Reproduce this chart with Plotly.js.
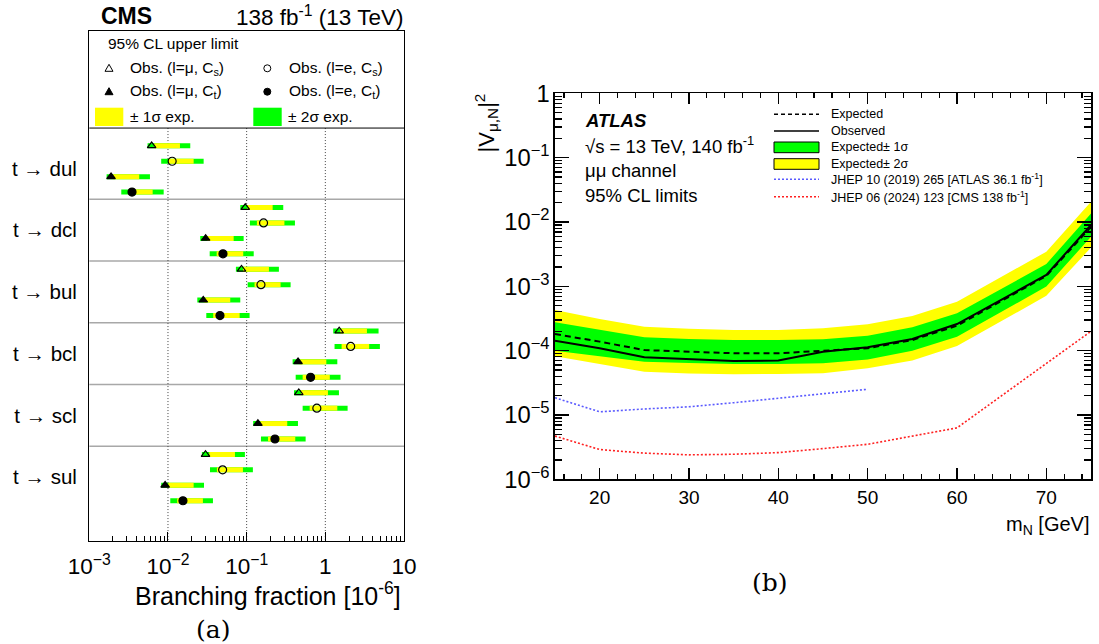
<!DOCTYPE html>
<html><head><meta charset="utf-8">
<script src="https://cdn.plot.ly/plotly-3.0.1.min.js"></script>
<style>html,body{margin:0;padding:0;background:#fff}</style>
</head><body>
<div id="chart" style="width:1099px;height:644px"></div>
<script>
// ================= Panel (a): CMS top-quark FCNC limits (10^-6) =================
const decays = ['t → dul', 't → dcl', 't → bul', 't → bcl', 't → scl', 't → sul'];
// Obs. (l=mu, Cs)
const obsMuCs = [0.0062, 0.096, 0.086, 1.50, 0.46, 0.030];
const lo2MuCs = [0.0055, 0.083, 0.073, 1.26, 0.40, 0.027];
const lo1MuCs = [0.0067, 0.102, 0.090, 1.55, 0.49, 0.0335];
const hi1MuCs = [0.0142, 0.214, 0.192, 3.38, 1.08, 0.071];
const hi2MuCs = [0.0192, 0.292, 0.257, 4.75, 1.49, 0.095];
// Obs. (l=e, Cs)
const obsECs = [0.0113, 0.164, 0.152, 2.10, 0.78, 0.0495];
const lo2ECs = [0.0082, 0.110, 0.103, 1.31, 0.515, 0.0342];
const lo1ECs = [0.0101, 0.135, 0.126, 1.61, 0.632, 0.0419];
const hi1ECs = [0.0212, 0.302, 0.270, 3.61, 1.42, 0.0897];
const hi2ECs = [0.0284, 0.411, 0.362, 4.94, 1.92, 0.120];
// Obs. (l=mu, Ct)
const obsMuCt = [0.00189, 0.0301, 0.0281, 0.45, 0.139, 0.0092];
const lo2MuCt = [0.00166, 0.0257, 0.0236, 0.384, 0.121, 0.0082];
const lo1MuCt = [0.0020, 0.0316, 0.0289, 0.47, 0.149, 0.0101];
const hi1MuCt = [0.00431, 0.0684, 0.0619, 1.03, 0.328, 0.0212];
const hi2MuCt = [0.0059, 0.0916, 0.083, 1.42, 0.449, 0.0287];
// Obs. (l=e, Ct)
const obsECt = [0.00349, 0.050, 0.0458, 0.65, 0.229, 0.0155];
const lo2ECt = [0.00255, 0.0339, 0.0307, 0.42, 0.152, 0.0107];
const lo1ECt = [0.00313, 0.0416, 0.0376, 0.515, 0.187, 0.0131];
const hi1ECt = [0.00639, 0.0905, 0.0815, 1.14, 0.415, 0.0278];
const hi2ECt = [0.00882, 0.123, 0.109, 1.56, 0.562, 0.0373];

// ================= Panel (b): ATLAS HNL |V_muN|^2 limits =================
const massN    = [15, 20, 25, 30, 35, 40, 45, 50, 55, 60, 70, 75];
const exp2Up   = [4.3e-4, 3.1e-4, 2.36e-4, 2.19e-4, 2.09e-4, 2.09e-4, 2.22e-4, 2.56e-4, 3.45e-4, 5.75e-4, 3.45e-3, 2.07e-2];
const exp1Up   = [2.75e-4, 2.09e-4, 1.61e-4, 1.52e-4, 1.46e-4, 1.46e-4, 1.50e-4, 1.71e-4, 2.31e-4, 3.80e-4, 2.22e-3, 1.36e-2];
const expected = [1.81e-4, 1.38e-4, 1.02e-4, 9.6e-5, 9.1e-5, 9.1e-5, 9.9e-5, 1.09e-4, 1.46e-4, 2.44e-4, 1.45e-3, 8.4e-3];
const observed = [1.43e-4, 1.09e-4, 7.9e-5, 7.4e-5, 6.9e-5, 7.0e-5, 9.6e-5, 1.13e-4, 1.52e-4, 2.59e-4, 1.50e-3, 8.97e-3];
const exp1Dn   = [1.0e-4, 8.2e-5, 6.7e-5, 6.4e-5, 6.2e-5, 6.2e-5, 6.35e-5, 7.3e-5, 1.0e-4, 1.64e-4, 9.9e-4, 5.9e-3];
const exp2Dn   = [8.2e-5, 6.2e-5, 4.7e-5, 4.4e-5, 4.3e-5, 4.35e-5, 4.45e-5, 5.3e-5, 7.0e-5, 1.18e-4, 7.1e-4, 4.0e-3];
const massAtlas2019 = [15, 20, 25, 30, 35, 40, 45, 50];
const limAtlas2019  = [1.85e-5, 1.12e-5, 1.24e-5, 1.34e-5, 1.55e-5, 1.82e-5, 2.12e-5, 2.51e-5];
const massCms2024 = [15, 20, 25, 30, 35, 40, 45, 50, 60, 70, 75];
const limCms2024  = [4.7e-6, 2.9e-6, 2.55e-6, 2.4e-6, 2.45e-6, 2.6e-6, 3.0e-6, 3.5e-6, 6.3e-6, 6.3e-5, 2.0e-4];

const legendA = ['Obs. (l=μ, C<sub>s</sub>)', 'Obs. (l=e, C<sub>s</sub>)', 'Obs. (l=μ, C<sub>t</sub>)', 'Obs. (l=e, C<sub>t</sub>)', '± 1σ exp.', '± 2σ exp.'];
const legendB = ['Expected', 'Observed', 'Expected± 1σ', 'Expected± 2σ',
  'JHEP 10 (2019) 265 [ATLAS 36.1 fb<sup>-1</sup>]', 'JHEP 06 (2024) 123 [CMS 138 fb<sup>-1</sup>]'];

// ---------------- helpers ----------------
const W = 1099, H = 644;
const px = x => x / W;
const py = y => 1 - y / H;
const F = 'Liberation Sans, Arial, Helvetica, sans-serif';
const GREEN = '#00ff00', YELLOW = '#ffff00';

const seriesA = [
  {obs: obsMuCs, lo2: lo2MuCs, lo1: lo1MuCs, hi1: hi1MuCs, hi2: hi2MuCs, symbol: 'triangle-up-open', size: 7.5},
  {obs: obsECs,  lo2: lo2ECs,  lo1: lo1ECs,  hi1: hi1ECs,  hi2: hi2ECs,  symbol: 'circle-open', size: 8},
  {obs: obsMuCt, lo2: lo2MuCt, lo1: lo1MuCt, hi1: hi1MuCt, hi2: hi2MuCt, symbol: 'triangle-up', size: 7.5},
  {obs: obsECt,  lo2: lo2ECt,  lo1: lo1ECt,  hi1: hi1ECt,  hi2: hi2ECt,  symbol: 'circle', size: 8}
];
const rowY = (g, r) => 4 * g + r + 0.53;

const traces = [];
function bandTrace(loKey, hiKey, color) {
  const xs = [], ys = [];
  seriesA.forEach((s, r) => {
    decays.forEach((d, g) => {
      xs.push(s[loKey][g], s[hiKey][g], null);
      ys.push(rowY(g, r), rowY(g, r), null);
    });
  });
  return {type: 'scatter', mode: 'lines', x: xs, y: ys, xaxis: 'x', yaxis: 'y',
    line: {color: color, width: 5}, hoverinfo: 'skip', showlegend: false, connectgaps: false};
}
traces.push(bandTrace('lo2', 'hi2', GREEN));
traces.push(bandTrace('lo1', 'hi1', YELLOW));
seriesA.forEach((s, r) => {
  traces.push({type: 'scatter', mode: 'markers', xaxis: 'x', yaxis: 'y',
    x: s.obs, y: decays.map((d, g) => rowY(g, r)),
    marker: {symbol: s.symbol, size: s.size, color: '#000', line: {color: '#000', width: 1.2}},
    showlegend: false});
});

// panel (b)
traces.push({type: 'scatter', mode: 'lines', x: massN, y: exp2Dn, xaxis: 'x2', yaxis: 'y2', line: {width: 0}, showlegend: false, hoverinfo: 'skip'});
traces.push({type: 'scatter', mode: 'lines', x: massN, y: exp2Up, xaxis: 'x2', yaxis: 'y2', line: {width: 0}, fill: 'tonexty', fillcolor: YELLOW, showlegend: false});
traces.push({type: 'scatter', mode: 'lines', x: massN, y: exp1Dn, xaxis: 'x2', yaxis: 'y2', line: {width: 0}, showlegend: false, hoverinfo: 'skip'});
traces.push({type: 'scatter', mode: 'lines', x: massN, y: exp1Up, xaxis: 'x2', yaxis: 'y2', line: {width: 0}, fill: 'tonexty', fillcolor: GREEN, showlegend: false});
traces.push({type: 'scatter', mode: 'lines', x: massAtlas2019, y: limAtlas2019, xaxis: 'x2', yaxis: 'y2', line: {color: '#5a5aff', width: 1.6, dash: '2px,2px'}, showlegend: false});
traces.push({type: 'scatter', mode: 'lines', x: massCms2024, y: limCms2024, xaxis: 'x2', yaxis: 'y2', line: {color: '#ff2020', width: 1.6, dash: '2px,2px'}, showlegend: false});
traces.push({type: 'scatter', mode: 'lines', x: massN, y: expected, xaxis: 'x2', yaxis: 'y2', line: {color: '#000', width: 2, dash: '6px,4px'}, showlegend: false});
traces.push({type: 'scatter', mode: 'lines', x: massN, y: observed, xaxis: 'x2', yaxis: 'y2', line: {color: '#000', width: 2}, showlegend: false});

// ---------------- shapes & annotations ----------------
const shapes = [];
const annotations = [];
const txt = (x, y, text, size, opts = {}) => annotations.push(Object.assign({
  xref: 'paper', yref: 'paper', x: px(x), y: py(y), text: text, showarrow: false,
  xanchor: 'left', yanchor: 'middle', font: {family: F, size: size, color: '#000'}}, opts));

for (let g = 1; g < decays.length; g++) {
  shapes.push({type: 'line', xref: 'x domain', yref: 'y', x0: 0, x1: 1, y0: 4 * g, y1: 4 * g,
    line: {color: '#a8a8a8', width: 1.5}, layer: 'below'});
}
[0.01, 0.1, 1].forEach(v => shapes.push({type: 'line', xref: 'x', yref: 'y', x0: v, x1: v, y0: -0.62, y1: 26.12,
  line: {color: '#444', width: 1, dash: '1px,2px'}, layer: 'below'}));
shapes.push({type: 'line', xref: 'x domain', yref: 'y', x0: 0, x1: 1, y0: -0.62, y1: -0.62, line: {color: '#000', width: 1}});
function triPath(cx, cy) {
  return `M ${px(cx - 4)},${py(cy + 3)} L ${px(cx + 4)},${py(cy + 3)} L ${px(cx)},${py(cy - 4)} Z`;
}
shapes.push({type: 'path', xref: 'paper', yref: 'paper', path: triPath(109, 68.3), line: {color: '#000', width: 1}});
shapes.push({type: 'path', xref: 'paper', yref: 'paper', path: triPath(109, 91.7), fillcolor: '#000', line: {color: '#000', width: 1}});
shapes.push({type: 'circle', xref: 'paper', yref: 'paper', x0: px(263.8), x1: px(270.8), y0: py(71.8), y1: py(64.8), line: {color: '#000', width: 1}});
shapes.push({type: 'circle', xref: 'paper', yref: 'paper', x0: px(263.8), x1: px(270.8), y0: py(95.2), y1: py(88.2), fillcolor: '#000', line: {color: '#000', width: 1}});
shapes.push({type: 'rect', xref: 'paper', yref: 'paper', x0: px(95), x1: px(123.3), y0: py(126), y1: py(107.7), fillcolor: YELLOW, line: {width: 0}});
shapes.push({type: 'rect', xref: 'paper', yref: 'paper', x0: px(253.3), x1: px(281.7), y0: py(126), y1: py(107.7), fillcolor: GREEN, line: {width: 0}});

txt(105.7, 43, '95% CL upper limit', 15.5);
txt(128.3, 68.3, legendA[0], 15.5);
txt(286.7, 68.3, legendA[1], 15.5);
txt(128.3, 91.7, legendA[2], 15.5);
txt(286.7, 91.7, legendA[3], 15.5);
txt(127.7, 116.7, legendA[4], 15.5);
txt(286, 116.7, legendA[5], 15.5);
txt(99, 16, '<b>CMS</b>', 23);
txt(405, 16, '138 fb<sup>-1</sup> (13 TeV)', 22.5, {xanchor: 'right'});
txt(403, 594, 'Branching fraction [10<sup>-6</sup>]', 25, {xanchor: 'right'});
txt(213, 629, '(a)', 26, {xanchor: 'center', font: {family: 'DejaVu Serif, serif', size: 25, color: '#000'}});

txt(583, 120, '<b><i>ATLAS</i></b>', 18.5);
txt(583, 145, '√s = 13 TeV, 140 fb<sup>-1</sup>', 18.5);
txt(583, 170, 'μμ channel', 18.5);
txt(583, 195, '95% CL limits', 18.5);
txt(1092, 525, 'm<sub>N</sub> [GeV]', 20, {xanchor: 'right'});
txt(770, 582, '(b)', 26, {xanchor: 'center', font: {family: 'DejaVu Serif, serif', size: 25, color: '#000'}});
annotations.push({xref: 'paper', yref: 'paper', x: px(486), y: py(92), text: '|V<sub>μ,N</sub>|<sup>2</sup>',
  showarrow: false, textangle: -90, xanchor: 'center', yanchor: 'top', font: {family: F, size: 22, color: '#000'}});

const legRows = [114.3, 131, 147.3, 164, 179.3, 196.7];
shapes.push({type: 'line', xref: 'paper', yref: 'paper', x0: px(774), x1: px(819), y0: py(legRows[0]), y1: py(legRows[0]), line: {color: '#000', width: 1.5, dash: '4px,3px'}});
shapes.push({type: 'line', xref: 'paper', yref: 'paper', x0: px(774), x1: px(819), y0: py(legRows[1]), y1: py(legRows[1]), line: {color: '#000', width: 1.5}});
shapes.push({type: 'rect', xref: 'paper', yref: 'paper', x0: px(774), x1: px(819), y0: py(152.7), y1: py(142), fillcolor: GREEN, line: {color: '#000', width: 1}});
shapes.push({type: 'rect', xref: 'paper', yref: 'paper', x0: px(774), x1: px(819), y0: py(169.3), y1: py(158.7), fillcolor: YELLOW, line: {color: '#000', width: 1}});
shapes.push({type: 'line', xref: 'paper', yref: 'paper', x0: px(774), x1: px(819), y0: py(legRows[4]), y1: py(legRows[4]), line: {color: '#5a5aff', width: 1.4, dash: '2px,2px'}});
shapes.push({type: 'line', xref: 'paper', yref: 'paper', x0: px(774), x1: px(819), y0: py(legRows[5]), y1: py(legRows[5]), line: {color: '#ff2020', width: 1.4, dash: '2px,2px'}});
legendB.forEach((t, i) => txt(829.3, legRows[i], t, 12.5));

const layout = {
  width: W, height: H, margin: {l: 0, r: 0, t: 0, b: 0},
  paper_bgcolor: '#fff', plot_bgcolor: '#fff', showlegend: false,
  font: {family: F, color: '#000'},
  xaxis: {domain: [px(89.3), px(404)], anchor: 'y', type: 'log', range: [-3, 1], dtick: 1, exponentformat: 'power',
    ticks: 'inside', ticklen: 9, tickwidth: 1, tickcolor: '#000',
    minor: {ticks: 'inside', ticklen: 5, dtick: 'D1', tickcolor: '#000', tickwidth: 1, showgrid: false},
    showline: true, mirror: true, linecolor: '#000', linewidth: 1.3, showgrid: false, zeroline: false,
    tickfont: {family: F, size: 18, color: '#000'}, ticklabelstandoff: 6},
  yaxis: {domain: [py(540.7), py(31)], anchor: 'x', range: [26.12, -6.909],
    tickmode: 'array', tickvals: decays.map((d, g) => 4 * g + 2), ticktext: decays, ticks: '',
    showline: true, mirror: true, linecolor: '#000', linewidth: 1.3, showgrid: false, zeroline: false,
    tickfont: {family: F, size: 20.5, color: '#000'}, ticklabelstandoff: 7},
  xaxis2: {domain: [px(555), px(1091)], anchor: 'y2', range: [15, 75], dtick: 10, tick0: 0,
    ticks: 'inside', ticklen: 11, tickwidth: 1.3, tickcolor: '#000',
    minor: {ticks: 'inside', ticklen: 5, dtick: 2, tick0: 0, tickcolor: '#000', tickwidth: 1.2, showgrid: false},
    showline: true, mirror: 'ticks', linecolor: '#000', linewidth: 1.6, showgrid: false, zeroline: false,
    tickfont: {family: F, size: 19, color: '#000'}},
  yaxis2: {domain: [py(479.3), py(93.3)], anchor: 'x2', type: 'log', range: [-6, 0], dtick: 1, exponentformat: 'power',
    ticks: 'inside', ticklen: 14, tickwidth: 1.3, tickcolor: '#000',
    minor: {ticks: 'inside', ticklen: 7, dtick: 'D1', tickcolor: '#000', tickwidth: 1.2, showgrid: false},
    showline: true, mirror: 'ticks', linecolor: '#000', linewidth: 1.6, showgrid: false, zeroline: false,
    tickfont: {family: F, size: 19, color: '#000'}},
  shapes: shapes, annotations: annotations
};

Plotly.newPlot('chart', traces, layout, {staticPlot: true, displayModeBar: false});
</script>
</body></html>
